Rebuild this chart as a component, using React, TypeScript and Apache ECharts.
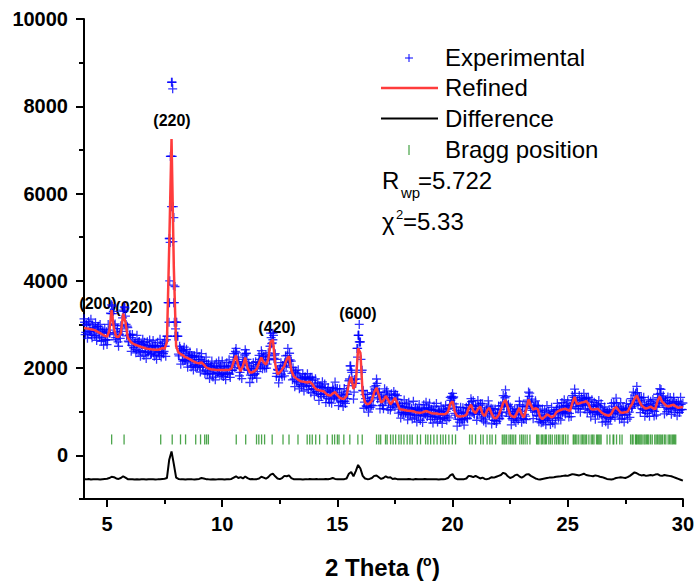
import React, { useEffect, useRef } from "react";
import * as echarts from "echarts";

// ---- Data ----
const twoThetaStart = 4;
const expStep = 0.05;
const expOffsetB = 0.025;
const refinedStep = 0.1;

// Experimental intensities, 4.00 .. 30.00 step 0.05
const experimentalA = [
  3130, 2765, 3000, 2685, 3070, 2835, 3120, 2695, 2920, 2750, 3040, 2635, 2950, 2785, 3000, 2615, 2830, 2525, 2890, 2640,
  2540, 3000, 2810, 3260, 3450, 3250, 2770, 3010, 2650, 2905, 2500, 2780, 2970, 2840, 3330, 3400, 3190, 2740, 2930, 2600,
  2770, 2385, 2770, 2465, 2570, 2350, 2750, 2370, 2610, 2270, 2540, 2662, 2295, 2478, 2220, 2605, 2380, 2645, 2310, 2518,
  2635, 2272, 2510, 2200, 2590, 2365, 2660, 2255, 2500, 2330, 2620, 2270, 2730, 3500, 4970, 6850, 8550, 8400, 5450, 3870,
  3050, 2730, 2320, 2500, 2090, 2405, 2160, 2480, 2180, 2430, 2020, 2245, 2370, 2025, 2250, 1955, 2280, 2020, 2350, 2065,
  2260, 1910, 2330, 2015, 2110, 1870, 2250, 1865, 2100, 1762, 2035, 2160, 1795, 1982, 1730, 2117, 1895, 2165, 1835, 2045,
  2165, 1805, 2045, 1735, 2125, 1895, 2190, 1785, 2030, 1950, 2330, 2010, 2450, 2140, 2250, 1820, 1990, 1760, 2200, 2060,
  2420, 2340, 1960, 2110, 1670, 2000, 1770, 2125, 1860, 2145, 1770, 2080, 2290, 2020, 2400, 1985, 2270, 1995, 2310, 2090,
  2350, 2190, 2800, 2560, 2800, 2220, 2330, 1810, 1970, 1660, 1960, 2125, 1800, 2030, 1820, 2280, 2140, 2450, 2150, 2190,
  2160, 1730, 1910, 1575, 1940, 1690, 1960, 1525, 1740, 1575, 1870, 1475, 1800, 1645, 1870, 1510, 1750, 1435, 1790, 1510,
  1380, 1755, 1470, 1660, 1260, 1585, 1350, 1685, 1400, 1635, 1210, 1430, 1550, 1215, 1450, 1195, 1560, 1325, 1680, 1365,
  1530, 1140, 1520, 1220, 1330, 1120, 1530, 1190, 1470, 1400, 1710, 2050, 1950, 1670, 1290, 1740, 1650, 2450, 2750, 3000,
  2600, 1900, 1490, 1080, 1390, 1135, 1400, 990, 1230, 1105, 1440, 1140, 1570, 1470, 1750, 1295, 1440, 1065, 1360, 1140,
  1070, 1525, 1320, 1480, 1050, 1325, 1040, 1410, 1160, 1465, 1110, 1290, 1370, 970, 1140, 855, 1190, 935, 1270, 985,
  1180, 815, 1220, 928, 1045, 832, 1240, 860, 1100, 765, 1040, 1168, 805, 1000, 755, 1158, 950, 1220, 890, 1088,
  1195, 825, 1055, 742, 1130, 900, 1190, 765, 990, 828, 1125, 732, 1060, 915, 1150, 805, 1060, 860, 1330, 1350,
  1420, 1340, 960, 1110, 670, 995, 760, 1102, 825, 1090, 695, 948, 1100, 840, 1160, 920, 1300, 980, 1250, 945,
  1120, 805, 1260, 1000, 1150, 855, 1180, 785, 1010, 745, 1090, 1250, 920, 1040, 720, 1065, 800, 1065, 730, 975,
  1130, 835, 1140, 905, 1370, 1175, 1500, 995, 1140, 895, 1110, 700, 1010, 850, 1070, 755, 1040, 805, 1240, 925,
  760, 1125, 830, 1120, 820, 1265, 1450, 1425, 1080, 1290, 840, 1095, 1250, 910, 1140, 770, 1020, 745, 1060, 805,
  1030, 700, 1140, 835, 940, 710, 1100, 745, 1010, 720, 1040, 1190, 850, 1050, 810, 1210, 1000, 1275, 950, 1145,
  1250, 880, 1110, 890, 1370, 1210, 1520, 1070, 1220, 1065, 1370, 990, 1330, 1185, 1420, 1062, 1305, 982, 1330, 1030,
  880, 1275, 1010, 1215, 830, 1165, 940, 1255, 950, 1185, 760, 985, 1110, 770, 1000, 715, 1050, 825, 1190, 960,
  1210, 875, 1310, 985, 1070, 830, 1210, 838, 1085, 762, 1050, 1185, 830, 1070, 870, 1300, 1120, 1450, 1180, 1425,
  1580, 1160, 1340, 980, 1320, 1065, 1330, 895, 1110, 960, 1270, 895, 1240, 1070, 1280, 900, 1120, 925, 1400, 1210,
  1530, 1510, 1190, 1365, 950, 1255, 1000, 1335, 1050, 1325, 940, 1185, 1330, 980, 1200, 905, 1230, 985, 1330, 1055,
  1200,
];

// Experimental intensities, 4.025 .. 29.975 step 0.05 (interleaved points)
const experimentalB = [
  3050, 2820, 2980, 2790, 3010, 2850, 2760, 2990, 2830, 2940, 2740, 2900, 2960, 2710, 2880, 2690, 2850, 2800, 2650, 2830,
  2650, 2870, 2800, 3250, 3420, 3300, 2980, 2700, 2830, 2600, 2760, 2680, 2900, 3150, 3300, 3380, 3000, 2960, 2620, 2750,
  2700, 2520, 2650, 2480, 2610, 2420, 2580, 2600, 2400, 2560, 2380, 2540, 2590, 2360, 2520, 2350, 2510, 2470, 2330, 2500,
  2350, 2510, 2300, 2480, 2380, 2290, 2520, 2350, 2560, 2380, 2500, 2650, 2730, 3500, 4970, 6850, 8550, 5700, 3500, 2900,
  3050, 2730, 2280, 2450, 2380, 2200, 2410, 2180, 2340, 2150, 2300, 2280, 2120, 2290, 2060, 2250, 2080, 2200, 2030, 2190,
  2030, 2200, 2150, 2050, 2160, 1950, 2080, 1920, 2060, 1890, 2040, 1870, 2010, 2050, 1860, 2020, 1880, 1990, 2040, 1850,
  1870, 2020, 1850, 2000, 1880, 2040, 1860, 2060, 1950, 2150, 2250, 2380, 2350, 2100, 2120, 1900, 2000, 2080, 2150, 2300,
  2330, 2200, 1950, 2050, 1840, 1980, 1830, 1990, 1870, 2030, 1920, 2130, 2200, 2100, 2330, 2250, 2050, 2180, 2000, 2200,
  2280, 2500, 2700, 2580, 2750, 2300, 2200, 1880, 1950, 1800, 1990, 1860, 2060, 1930, 2130, 2050, 2290, 2180, 2340, 2020,
  1880, 2010, 1750, 1890, 1700, 1840, 1660, 1800, 1620, 1780, 1610, 1770, 1760, 1590, 1750, 1600, 1790, 1580, 1720, 1530,
  1640, 1460, 1590, 1420, 1570, 1400, 1560, 1550, 1390, 1520, 1340, 1480, 1300, 1450, 1290, 1470, 1500, 1360, 1530, 1340,
  1300, 1430, 1250, 1390, 1230, 1370, 1240, 1400, 1300, 1600, 1750, 2050, 1900, 1720, 1450, 1650, 1750, 2250, 2750, 2600,
  2200, 1950, 1480, 1220, 1300, 1120, 1250, 1100, 1260, 1150, 1330, 1420, 1520, 1600, 1650, 1400, 1450, 1230, 1280, 1150,
  1340, 1250, 1450, 1380, 1200, 1300, 1100, 1270, 1160, 1380, 1400, 1190, 1280, 1060, 1130, 990, 1120, 980, 1110, 960,
  1100, 950, 1090, 940, 1080, 1010, 930, 1070, 920, 1050, 900, 1040, 910, 1060, 920, 1080, 950, 1090, 940, 1060,
  910, 1050, 890, 1030, 880, 1040, 870, 1020, 1010, 860, 1000, 850, 1020, 860, 1010, 900, 1080, 1150, 1260, 1300,
  1320, 1180, 920, 1030, 830, 960, 820, 970, 810, 980, 840, 990, 860, 1070, 1150, 1060, 1230, 1150, 960, 1070,
  1050, 940, 1130, 1010, 1190, 980, 880, 1000, 830, 1040, 960, 1130, 1020, 1080, 880, 960, 800, 920, 780, 950,
  850, 1050, 980, 1200, 1130, 1320, 1350, 1120, 1170, 950, 1000, 840, 960, 810, 940, 860, 1050, 970, 1160, 950,
  1010, 840, 940, 900, 1120, 1230, 1350, 1150, 1220, 1030, 1120, 990, 1150, 1000, 1130, 900, 820, 930, 760, 920,
  810, 980, 870, 1010, 850, 960, 800, 950, 970, 870, 1050, 930, 1090, 960, 1110, 980, 1130, 1000, 1140, 990,
  1110, 960, 1090, 1180, 1270, 1330, 1420, 1200, 1250, 1120, 1260, 1140, 1280, 1150, 1300, 1170, 1310, 1150, 1240, 1060,
  1130, 990, 1120, 980, 1130, 1000, 1140, 970, 1090, 930, 1040, 890, 1010, 870, 990, 850, 980, 870, 1030, 950,
  1130, 1010, 1180, 1020, 1110, 950, 1050, 920, 1040, 920, 1060, 940, 1070, 990, 1170, 1080, 1250, 1190, 1380, 1290,
  1440, 1260, 1320, 1140, 1220, 1060, 1170, 1030, 1140, 1020, 1160, 1050, 1190, 1040, 1150, 1010, 1130, 1100, 1320, 1250,
  1420, 1280, 1300, 1150, 1250, 1100, 1200, 1070, 1190, 1080, 1220, 1090, 1230, 1080, 1190, 1040, 1160, 1040, 1170, 1050,
];

// Extra experimental points on the flanks of the strong peaks [2theta, I]
const experimentalExtra = [
  [7.78, 6850], [7.8, 5700], [7.74, 4880], [7.72, 4000], [7.71, 3500], [7.69, 3050],
  [7.83, 6850], [7.86, 4900], [7.88, 3900], [7.9, 3500], [7.92, 3050], [7.95, 2730],
  [15.92, 2750], [15.95, 2600], [15.88, 2450], [12.2, 2650],
];

// Refined (calculated) profile, 4.0 .. 30.0 step 0.1
const refined = [
  2920, 2910, 2900, 2890, 2880, 2860, 2830, 2800, 2770, 2740,
  2720, 2850, 3330, 2900, 2720, 2710, 2800, 3250, 3050, 2700,
  2620, 2570, 2540, 2520, 2500, 2480, 2465, 2450, 2440, 2430,
  2425, 2420, 2420, 2430, 2460, 2440, 2600, 4800, 7250, 4300,
  2500, 2360, 2320, 2290, 2250, 2230, 2200, 2170, 2140, 2120,
  2110, 2130, 2080, 2020, 1990, 1975, 1965, 1960, 1955, 1955,
  1955, 1955, 1955, 1960, 1990, 2150, 2290, 2050, 1930, 2050,
  2240, 2000, 1900, 1900, 1930, 1980, 2120, 2240, 2130, 2080,
  2200, 2600, 2650, 2100, 1860, 1900, 1970, 2050, 2200, 2270,
  1950, 1820, 1770, 1730, 1700, 1690, 1680, 1670, 1690, 1640,
  1560, 1510, 1490, 1480, 1470, 1420, 1380, 1370, 1420, 1450,
  1380, 1320, 1300, 1300, 1360, 1650, 1800, 1520, 1650, 2450,
  2350, 1400, 1220, 1170, 1190, 1260, 1450, 1550, 1380, 1210,
  1250, 1360, 1280, 1170, 1230, 1320, 1200, 1060, 1050, 1040,
  1030, 1020, 1015, 1010, 990, 980, 975, 985, 1010, 1010,
  985, 965, 960, 960, 950, 945, 940, 950, 1000, 1180,
  1240, 1000, 900, 890, 895, 905, 930, 1080, 1160, 1020,
  970, 1060, 1120, 950, 900, 1030, 1090, 950, 860, 850,
  920, 1050, 1200, 1270, 1100, 930, 890, 870, 980, 1090,
  940, 870, 1050, 1280, 1150, 1050, 1080, 1060, 880, 830,
  880, 940, 910, 870, 900, 980, 1020, 1040, 1060, 1070,
  1040, 1020, 1200, 1340, 1180, 1190, 1210, 1220, 1245, 1180,
  1060, 1050, 1060, 1070, 1020, 970, 940, 920, 910, 960,
  1060, 1110, 1040, 980, 975, 990, 1000, 1100, 1180, 1300,
  1370, 1250, 1150, 1100, 1070, 1090, 1120, 1080, 1060, 1250,
  1350, 1230, 1180, 1130, 1120, 1150, 1160, 1120, 1090, 1100,
  1110,
];

// Difference curve (offset), 4.0 .. 30.0 step 0.1
const difference = [
  -545, -550, -540, -555, -545, -550, -548, -552, -545, -540,
  -535, -520, -490, -500, -530, -540, -520, -480, -510, -545,
  -550, -545, -555, -548, -552, -545, -550, -555, -545, -550,
  -548, -552, -550, -545, -540, -535, -520, -100, 90, -200,
  -510, -540, -550, -545, -552, -548, -545, -550, -553, -545,
  -540, -520, -530, -545, -550, -552, -548, -553, -550, -545,
  -548, -552, -545, -550, -540, -510, -480, -520, -500, -530,
  -485, -520, -545, -540, -550, -545, -530, -490, -510, -535,
  -500, -440, -420, -480, -530, -545, -520, -470, -480, -460,
  -520, -545, -550, -548, -545, -552, -545, -550, -540, -548,
  -545, -540, -550, -548, -545, -540, -548, -535, -520, -540,
  -545, -550, -548, -545, -530, -420, -380, -480, -360, -220,
  -300, -470, -530, -545, -540, -520, -470, -460, -500, -540,
  -520, -480, -510, -500, -540, -530, -545, -548, -545, -550,
  -545, -540, -548, -552, -540, -545, -550, -545, -540, -548,
  -545, -550, -548, -545, -553, -548, -545, -540, -520, -460,
  -430, -520, -545, -550, -548, -545, -530, -470, -480, -500,
  -470, -500, -530, -510, -540, -545, -530, -500, -510, -490,
  -470, -450, -400, -420, -480, -520, -500, -460, -440, -480,
  -510, -480, -440, -430, -470, -500, -530, -545, -555, -540,
  -530, -520, -510, -505, -500, -490, -485, -480, -470, -460,
  -470, -450, -430, -440, -450, -460, -440, -420, -450, -460,
  -470, -480, -460, -470, -490, -500, -520, -540, -550, -555,
  -540, -520, -510, -500, -510, -520, -500, -470, -430, -390,
  -410, -440, -460, -450, -470, -460, -450, -460, -440, -430,
  -460, -470, -450, -460, -470, -480, -500, -520, -540, -560,
  -580,
];

// Bragg reflection positions (2theta)
const braggPositions = [
  5.2, 5.74, 7.33, 7.83, 8.19, 8.41, 8.85, 9.06, 9.24, 9.32, 9.4, 10.61, 11.02, 11.49, 11.59, 11.71, 11.84, 12.17,
  12.64, 12.9, 13.29, 13.69, 13.8, 13.91, 14.06, 14.23, 14.56, 14.78, 14.88, 15.0, 15.07, 15.28, 15.54, 15.89, 16.08,
  16.7, 16.8, 16.88, 17.09, 17.16, 17.31, 17.42, 17.53, 17.67, 17.77, 17.89, 18.03, 18.15, 18.25, 18.47, 18.61, 18.83,
  18.93, 19.05, 19.19, 19.33, 19.48, 19.59, 19.7, 19.84, 19.99, 20.13, 20.74, 20.85, 21.0, 21.22, 21.33, 21.5, 21.62,
  21.72, 21.87, 22.16, 22.23, 22.28, 22.35, 22.45, 22.52, 22.59, 22.66, 22.74, 22.92, 23.0, 23.07, 23.15, 23.24, 23.36,
  23.65, 23.7, 23.75, 23.85, 23.9, 23.97, 24.03, 24.08, 24.18, 24.25, 24.33, 24.44, 24.52, 24.6, 24.66, 24.76, 24.82,
  24.91, 25.01, 25.24, 25.28, 25.34, 25.4, 25.48, 25.58, 25.64, 25.7, 25.76, 25.82, 25.92, 26.02, 26.08, 26.14, 26.25,
  26.3, 26.35, 26.4, 26.45, 26.71, 26.83, 26.97, 27.0, 27.12, 27.26, 27.36, 27.73, 27.8, 27.84, 27.94, 27.98, 28.02,
  28.08, 28.13, 28.18, 28.23, 28.31, 28.36, 28.42, 28.47, 28.52, 28.6, 28.67, 28.78, 28.84, 28.9, 28.96, 29.01, 29.06,
  29.12, 29.2, 29.26, 29.36, 29.42, 29.48, 29.54, 29.59, 29.64, 29.69,
];
const braggLevel = 365;

const xMajorTicks = [5, 10, 15, 20, 25, 30];
const xMinorTicks = [7.5, 12.5, 17.5, 22.5, 27.5];
const yMajorTicks = [0, 2000, 4000, 6000, 8000, 10000];
const yMinorTicks = [-1000, 1000, 3000, 5000, 7000, 9000];

const peakLabels = [
  { text: "(200)", x: 98, y: 303 },
  { text: "(020)", x: 134, y: 307 },
  { text: "(220)", x: 172, y: 120 },
  { text: "(420)", x: 277, y: 327 },
  { text: "(600)", x: 358, y: 313 },
];

const FONT = "'Liberation Sans', Arial, Helvetica, sans-serif";
const BLUE = "#0000ff";
const RED = "#ff3c3c";
const GREEN = "#1f8f1f";

function toPairs(values: number[], step: number, start = twoThetaStart) {
  return values.map((v, i) => [Number((start + i * step).toFixed(3)), v]);
}

export default function App() {
  const ref = useRef<HTMLDivElement>(null);

  useEffect(() => {
    if (!ref.current) return;
    const chart = echarts.init(ref.current, null, { renderer: "svg" });

    const axisCommon = {
      type: "value" as const,
      splitLine: { show: false },
    };

    const graphics: any[] = [];
    peakLabels.forEach((p) =>
      graphics.push({
        type: "text",
        x: p.x,
        y: p.y,
        style: {
          text: p.text,
          fontFamily: FONT,
          fontSize: 16,
          fontWeight: "bold",
          fill: "#000",
          align: "center",
          verticalAlign: "middle",
        },
      })
    );
    graphics.push(
      { type: "line", shape: { x1: 405, y1: 58, x2: 413, y2: 58 }, style: { stroke: BLUE, lineWidth: 1 } },
      { type: "line", shape: { x1: 409, y1: 54, x2: 409, y2: 62 }, style: { stroke: BLUE, lineWidth: 1 } },
      { type: "line", shape: { x1: 381, y1: 88, x2: 438, y2: 88 }, style: { stroke: RED, lineWidth: 2.5 } },
      { type: "line", shape: { x1: 381, y1: 118.5, x2: 438, y2: 118.5 }, style: { stroke: "#000", lineWidth: 2 } },
      { type: "line", shape: { x1: 409, y1: 145, x2: 409, y2: 155 }, style: { stroke: GREEN, lineWidth: 1 } }
    );
    const legendTexts = [
      { t: "Experimental", y: 57 },
      { t: "Refined", y: 87.5 },
      { t: "Difference", y: 118.5 },
      { t: "Bragg position", y: 149 },
    ];
    legendTexts.forEach((l) =>
      graphics.push({
        type: "text",
        x: 445,
        y: l.y,
        style: { text: l.t, fontFamily: FONT, fontSize: 24, fill: "#000", align: "left", verticalAlign: "middle" },
      })
    );
    graphics.push(
      { type: "text", x: 382, y: 180.5, style: { text: "R", fontFamily: FONT, fontSize: 24, fill: "#000", align: "left", verticalAlign: "middle" } },
      { type: "text", x: 401, y: 192, style: { text: "wp", fontFamily: FONT, fontSize: 15, fill: "#000", align: "left", verticalAlign: "middle" } },
      { type: "text", x: 418, y: 180.5, style: { text: "=5.722", fontFamily: FONT, fontSize: 24, fill: "#000", align: "left", verticalAlign: "middle" } },
      { type: "text", x: 382, y: 221.5, style: { text: "χ", fontFamily: FONT, fontSize: 24, fill: "#000", align: "left", verticalAlign: "middle" } },
      { type: "text", x: 396, y: 214, style: { text: "2", fontFamily: FONT, fontSize: 13, fill: "#000", align: "left", verticalAlign: "middle" } },
      { type: "text", x: 403, y: 221.5, style: { text: "=5.33", fontFamily: FONT, fontSize: 24, fill: "#000", align: "left", verticalAlign: "middle" } }
    );
    graphics.push(
      { type: "text", x: 325, y: 567, style: { text: "2 Theta (", fontFamily: FONT, fontSize: 24, fontWeight: "bold", fill: "#000", align: "left", verticalAlign: "middle" } },
      { type: "text", x: 423, y: 561, style: { text: "o", fontFamily: FONT, fontSize: 14, fontWeight: "bold", fill: "#000", align: "left", verticalAlign: "middle" } },
      { type: "text", x: 432, y: 567, style: { text: ")", fontFamily: FONT, fontSize: 24, fontWeight: "bold", fill: "#000", align: "left", verticalAlign: "middle" } }
    );

    const plain = (v: number) => String(v);

    chart.setOption({
      animation: false,
      backgroundColor: "#ffffff",
      grid: { left: 84, right: 14, top: 19, bottom: 84, containLabel: false },
      xAxis: [
        {
          ...axisCommon,
          min: 4,
          max: 30,
          position: "bottom",
          axisLine: { show: true, onZero: false, lineStyle: { color: "#000", width: 2 } },
          axisTick: { show: true, customValues: xMajorTicks, length: 8, lineStyle: { color: "#000", width: 2 } },
          axisLabel: {
            show: true,
            customValues: xMajorTicks,
            formatter: plain,
            margin: 15,
            fontFamily: FONT,
            fontSize: 20,
            fontWeight: "bold",
            color: "#000",
          },
        },
        {
          ...axisCommon,
          min: 4,
          max: 30,
          position: "bottom",
          axisLine: { show: false, onZero: false },
          axisTick: { show: true, customValues: xMinorTicks, length: 5, lineStyle: { color: "#000", width: 2 } },
          axisLabel: { show: false },
        },
      ],
      yAxis: [
        {
          ...axisCommon,
          min: -1000,
          max: 10000,
          position: "left",
          axisLine: { show: true, onZero: false, lineStyle: { color: "#000", width: 2 } },
          axisTick: { show: true, customValues: yMajorTicks, length: 8, lineStyle: { color: "#000", width: 2 } },
          axisLabel: {
            show: true,
            customValues: yMajorTicks,
            formatter: plain,
            margin: 16,
            fontFamily: FONT,
            fontSize: 20,
            fontWeight: "bold",
            color: "#000",
          },
        },
        {
          ...axisCommon,
          min: -1000,
          max: 10000,
          position: "left",
          axisLine: { show: false, onZero: false },
          axisTick: { show: true, customValues: yMinorTicks, length: 5, lineStyle: { color: "#000", width: 2 } },
          axisLabel: { show: false },
        },
      ],
      series: [
        {
          name: "Bragg position",
          type: "scatter",
          xAxisIndex: 0,
          yAxisIndex: 0,
          symbol: "rect",
          symbolSize: [1.3, 10],
          itemStyle: { color: GREEN },
          data: braggPositions.map((x) => [x, braggLevel]),
          silent: true,
          z: 1,
        },
        {
          name: "Difference",
          type: "line",
          xAxisIndex: 0,
          yAxisIndex: 0,
          showSymbol: false,
          lineStyle: { color: "#000", width: 2 },
          data: toPairs(difference, refinedStep),
          silent: true,
          z: 2,
        },
        {
          name: "Experimental",
          type: "scatter",
          xAxisIndex: 0,
          yAxisIndex: 0,
          symbol: "path://M0,5L10,5M5,0L5,10",
          symbolSize: [9, 9],
          itemStyle: { color: "none", borderColor: BLUE, borderWidth: 1.3 },
          data: [
            ...toPairs(experimentalA, expStep),
            ...toPairs(experimentalB, expStep, twoThetaStart + expOffsetB),
            ...experimentalExtra,
          ],
          silent: true,
          large: false,
          z: 3,
        },
        {
          name: "Refined",
          type: "line",
          xAxisIndex: 0,
          yAxisIndex: 0,
          showSymbol: false,
          lineStyle: { color: RED, width: 2.5 },
          data: toPairs(refined, refinedStep),
          silent: true,
          z: 4,
        },
      ],
      graphic: graphics,
    });

    return () => chart.dispose();
  }, []);

  return (
    <div
      ref={ref}
      style={{ position: "absolute", left: 0, top: 0, width: 697, height: 583, background: "#fff" }}
    />
  );
}
